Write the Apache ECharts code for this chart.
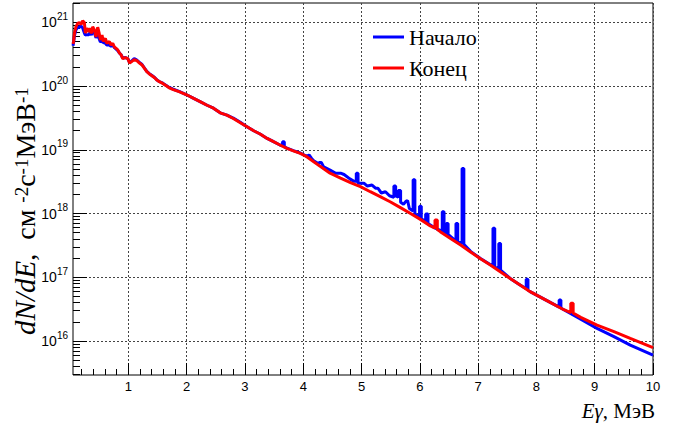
<!DOCTYPE html>
<html><head><meta charset="utf-8">
<script src="https://cdn.jsdelivr.net/npm/echarts@6/dist/echarts.min.js"></script>
<style>
html,body{margin:0;padding:0;background:#fff}
#c{width:674px;height:423px}
</style>
</head><body><div id="c"></div>
<script>
// Energy (MeV) and flux (cm^-2 s^-1 MeV^-1)
const redE = [0.05,0.06,0.075,0.10,0.13,0.16,0.19,0.215,0.245,0.262,
  0.285,0.32,0.342,0.365,0.388,0.417,0.445,0.474,0.50,0.52,
  0.548,0.571,0.606,0.63,0.675,0.703,0.732,0.76,0.79,0.818,
  0.846,0.875,0.903,0.95,0.99,1.02,1.05,1.10,1.145,1.19,
  1.235,1.276,1.316,1.36,1.41,1.45,1.49,1.53,1.59,1.65,
  1.70,1.76,1.88,2.00,2.12,2.23,2.35,2.46,2.575,2.69,
  2.80,2.92,3.00,3.15,3.26,3.38,3.49,3.60,3.72,3.83,
  3.95,4.06,4.18,4.29,4.46,4.64,4.81,4.98,5.15,5.32,
  5.49,5.66,5.84,6.01,6.18,6.26,6.26,6.30,6.30,6.35,
  6.52,6.70,6.87,7.04,7.21,7.38,7.55,7.70,7.90,8.18,
  8.47,8.59,8.59,8.63,8.63,8.76,9.04,9.33,9.61,10.0];
const redF = [4.6e20,5.0e20,6.7e20,8.5e20,9.6e20,9.9e20,9.3e20,1.06e21,9.9e20,6.8e20,
  8.1e20,7.1e20,8.1e20,6.7e20,8.5e20,7.6e20,5.9e20,8.4e20,6.7e20,5.3e20,
  6.3e20,5.0e20,5.6e20,4.7e20,5.0e20,4.4e20,4.7e20,4.1e20,3.9e20,3.7e20,
  3.3e20,3.1e20,2.7e20,2.8e20,2.7e20,2.3e20,2.4e20,2.6e20,2.5e20,2.3e20,
  2.14e20,1.9e20,1.68e20,1.55e20,1.44e20,1.35e20,1.24e20,1.17e20,1.10e20,1.01e20,
  9.4e19,8.9e19,8.1e19,7.3e19,6.4e19,5.7e19,5.0e19,4.5e19,3.8e19,3.5e19,
  3.1e19,2.66e19,2.4e19,1.99e19,1.77e19,1.51e19,1.34e19,1.19e19,1.05e19,9.6e18,
  8.8e18,7.8e18,6.5e18,5.5e18,4.3e18,3.6e18,3.05e18,2.64e18,2.2e18,1.84e18,
  1.53e18,1.25e18,1.0e18,8.1e17,6.4e17,5.9e17,7.9e17,7.9e17,5.6e17,5.2e17,
  4.1e17,3.2e17,2.5e17,1.95e17,1.56e17,1.22e17,9.6e16,7.8e16,5.9e16,4.3e16,
  3.1e16,2.8e16,3.9e16,3.9e16,2.75e16,2.35e16,1.78e16,1.40e16,1.10e16,7.9e15];

const blueE = [0.05,0.06,0.075,0.10,0.13,0.16,0.19,0.215,0.245,0.262,
  0.285,0.32,0.342,0.365,0.388,0.417,0.445,0.474,0.50,0.52,
  0.548,0.571,0.606,0.63,0.675,0.703,0.732,0.76,0.79,0.818,
  0.846,0.875,0.903,0.95,0.99,1.02,1.05,1.10,1.145,1.19,
  1.235,1.276,1.316,1.36,1.41,1.45,1.49,1.53,1.59,1.65,
  1.70,1.76,1.88,2.00,2.12,2.23,2.35,2.46,2.575,2.69,
  2.80,2.92,3.00,3.15,3.26,3.38,3.49,3.60,3.645,3.645,
  3.675,3.675,3.72,3.83,3.95,4.06,4.10,4.14,4.18,4.27,
  4.27,4.31,4.35,4.46,4.55,4.64,4.70,4.80,4.87,4.91,
  4.91,4.94,4.94,5.04,5.10,5.18,5.24,5.28,5.34,5.41,
  5.48,5.555,5.555,5.585,5.585,5.63,5.63,5.67,5.67,5.72,
  5.76,5.79,5.82,5.885,5.885,5.915,5.915,5.96,5.995,5.995,
  6.025,6.025,6.10,6.10,6.14,6.14,6.24,6.30,6.385,6.385,
  6.415,6.415,6.455,6.455,6.485,6.485,6.62,6.62,6.65,6.65,
  6.725,6.725,6.755,6.755,6.87,7.04,7.20,7.255,7.255,7.285,
  7.285,7.355,7.355,7.385,7.385,7.55,7.70,7.825,7.825,7.855,
  7.855,7.90,8.18,8.39,8.39,8.42,8.42,8.47,8.76,9.04,
  9.33,9.61,10.0];
const blueF = [4.3e20,4.8e20,6.2e20,7.6e20,8.4e20,8.4e20,8.7e20,8.2e20,6.8e20,6.3e20,
  6.4e20,6.4e20,6.9e20,6.3e20,7.3e20,6.8e20,5.7e20,6.6e20,5.5e20,4.9e20,
  5.1e20,4.8e20,4.7e20,4.4e20,4.4e20,4.2e20,4.4e20,4.0e20,3.8e20,3.6e20,
  3.3e20,3.1e20,2.75e20,2.8e20,2.7e20,2.35e20,2.45e20,2.7e20,2.55e20,2.35e20,
  2.18e20,1.92e20,1.70e20,1.57e20,1.45e20,1.36e20,1.25e20,1.18e20,1.11e20,1.02e20,
  9.5e19,9.0e19,8.2e19,7.3e19,6.4e19,5.7e19,5.0e19,4.5e19,3.8e19,3.5e19,
  3.15e19,2.7e19,2.4e19,1.99e19,1.77e19,1.51e19,1.34e19,1.19e19,1.15e19,1.34e19,
  1.34e19,1.12e19,1.06e19,9.7e18,8.9e18,7.9e18,8.3e18,7.4e18,6.7e18,6.0e18,
  6.3e18,6.3e18,5.4e18,4.8e18,4.3e18,4.3e18,4.1e18,3.5e18,3.2e18,3.2e18,
  4.3e18,4.3e18,3.0e18,3.0e18,2.7e18,2.8e18,2.5e18,2.5e18,2.1e18,2.2e18,
  1.9e18,1.8e18,2.7e18,2.7e18,1.9e18,1.8e18,2.3e18,2.3e18,1.5e18,1.4e18,
  1.55e18,1.6e18,1.2e18,1.1e18,3.4e18,3.4e18,1.0e18,9.2e17,9.0e17,1.3e18,
  1.3e18,8.3e17,7.5e17,9.8e17,9.8e17,7.0e17,6.1e17,5.7e17,5.3e17,1.07e18,
  1.07e18,5.0e17,4.9e17,7.0e17,7.0e17,4.7e17,3.7e17,7.0e17,7.0e17,3.6e17,
  3.4e17,5.1e18,5.1e18,3.3e17,2.55e17,1.97e17,1.6e17,1.5e17,5.9e17,5.9e17,
  1.45e17,1.35e17,3.4e17,3.4e17,1.3e17,9.6e16,7.8e16,6.6e16,9.3e16,9.3e16,
  6.3e16,5.9e16,4.3e16,3.4e16,4.4e16,4.4e16,3.3e16,3.1e16,2.2e16,1.58e16,
  1.17e16,8.6e15,6.0e15];

const seriesNames = ['Начало', 'Конец'];
const xTicks = [1,2,3,4,5,6,7,8,9,10];
const yTicks = [1e16,1e17,1e18,1e19,1e20,1e21];
const xMin = 0.05, xMax = 10, yMin = 2.93e15, yMax = 2.01e21;

const xMinor = [];
for (let i = 1; i < 50; i++) { if (i % 5) xMinor.push(Math.round(i * 2) / 10); }
const yMinor = [];
for (let e = 15; e <= 21; e++) for (let m = 2; m <= 9; m++) {
  const v = m * Math.pow(10, e);
  if (v > yMin && v < yMax) yMinor.push(v);
}

const chart = echarts.init(document.getElementById('c'), null, {renderer: 'svg'});
const gridBox = {left: 73, right: 21, top: 3, bottom: 48};
const grid = '#444';
const serif = 'Liberation Serif';
const sans = 'Liberation Sans';
const up = {fontFamily: serif, fontStyle: 'normal', fontWeight: 'normal', color: '#000'};
const it = {fontFamily: serif, fontStyle: 'italic', fontWeight: 'normal', color: '#000'};

chart.setOption({
  animation: false,
  backgroundColor: '#fff',
  textStyle: {fontFamily: serif, fontStyle: 'normal', fontWeight: 'normal'},
  grid: [
    Object.assign({show: true, borderColor: '#000', borderWidth: 1, backgroundColor: 'transparent'}, gridBox),
    Object.assign({show: false}, gridBox)
  ],
  legend: {
    orient: 'vertical', left: 368, top: 21, itemWidth: 31, itemHeight: 3, itemGap: 9,
    icon: 'rect',
    data: seriesNames,
    textStyle: Object.assign({fontSize: 22, lineHeight: 22}, up)
  },
  title: {
    text: '{i|E}{g|γ}{n|, МэВ}', right: 19, top: 402, padding: 0,
    textStyle: Object.assign({fontSize: 21, lineHeight: 18, rich: {
      i: Object.assign({fontSize: 21, lineHeight: 18}, it),
      g: Object.assign({fontSize: 21, lineHeight: 18}, it),
      n: Object.assign({fontSize: 21, lineHeight: 18}, up)}}, up)
  },
  xAxis: [
    {type: 'value', gridIndex: 0, min: xMin, max: xMax,
     axisLine: {show: false},
     axisTick: {show: true, inside: true, length: 12, customValues: xTicks, lineStyle: {color: '#000'}},
     axisLabel: {customValues: xTicks, margin: 5, fontFamily: sans, fontSize: 13, color: '#000'},
     splitLine: {show: true, lineStyle: {color: grid, width: 1, type: [2, 2]}}},
    {type: 'value', gridIndex: 1, min: xMin, max: xMax,
     axisLine: {show: false},
     axisTick: {show: true, inside: true, length: 6, customValues: xMinor, lineStyle: {color: '#000'}},
     axisLabel: {show: false}, splitLine: {show: false}}
  ],
  yAxis: [
    {type: 'log', logBase: 10, gridIndex: 0, min: yMin, max: yMax,
     axisLine: {show: false},
     axisTick: {show: true, inside: true, length: 14, customValues: yTicks, lineStyle: {color: '#000'}},
     axisLabel: {customValues: yTicks, margin: 5, color: '#000', fontFamily: sans,
       formatter: v => '{b|10}{s|' + Math.round(Math.log10(v)) + '}',
       rich: {b: {fontFamily: sans, fontSize: 14, color: '#000'},
              s: {fontFamily: sans, fontSize: 10, color: '#000', padding: [0,0,12,0]}}},
     splitLine: {show: true, lineStyle: {color: grid, width: 1, type: [2, 2]}}},
    {type: 'log', logBase: 10, gridIndex: 1, min: yMin, max: yMax,
     axisLine: {show: false},
     axisTick: {show: true, inside: true, length: 7, customValues: yMinor, lineStyle: {color: '#000'}},
     axisLabel: {show: false}, splitLine: {show: false}}
  ],
  series: [
    {name: seriesNames[0], type: 'line', xAxisIndex: 0, yAxisIndex: 0, symbol: 'none',
     lineStyle: {color: '#0000ff', width: 3}, itemStyle: {color: '#0000ff'},
     data: blueE.map((e, i) => [e, blueF[i]])},
    {name: seriesNames[1], type: 'line', xAxisIndex: 0, yAxisIndex: 0, symbol: 'none',
     lineStyle: {color: '#ff0000', width: 3}, itemStyle: {color: '#ff0000'},
     data: redE.map((e, i) => [e, redF[i]])}
  ],
  graphic: [
    {type: 'text', x: 25, y: 211, rotation: Math.PI / 2,
     style: {text: '{i|dN/dE}{n|,  см }{s|-2}{n|с}{s|-1}{n|МэВ}{s|-1}',
       align: 'center', verticalAlign: 'middle', textAlign: 'center', textVerticalAlign: 'middle',
       rich: {i: Object.assign({fontSize: 29, fill: '#000'}, it),
              n: Object.assign({fontSize: 28, fill: '#000'}, up),
              s: Object.assign({fontSize: 19, fill: '#000', padding: [0,0,8,0]}, up)}}}
  ]
});
</script>
</body></html>
